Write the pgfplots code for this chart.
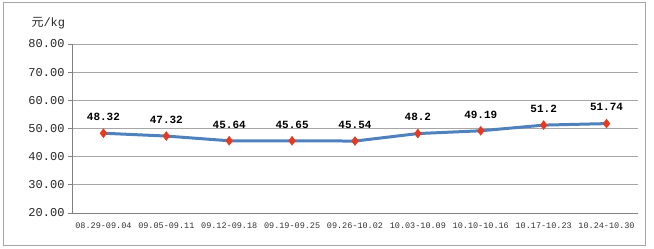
\documentclass[border=0pt]{standalone}
\usepackage{pgfplots}
\pgfplotsset{compat=1.18}
\usepackage{fontspec}
\setmainfont{Liberation Serif}
\newfontfamily\cjk{Noto Sans CJK SC}
\newfontfamily\mono{Liberation Mono}
\definecolor{lineblue}{HTML}{4F81BD}
\definecolor{mkred}{HTML}{E8381E}
\definecolor{gridgray}{HTML}{A6A6A6}
\begin{document}
\begin{tikzpicture}[x=1pt,y=1pt]
\path[use as bounding box] (0,0) rectangle (654,249);
\draw[gray!70, line width=0.8pt] (3,4) rectangle (645,247);
\node[anchor=west, font=\mono\fontsize{12}{12}\selectfont, text=black!85] at (28,226) {{\cjk 元}/kg};
\begin{axis}[
  at={(72pt,36pt)}, anchor=south west,
  scale only axis, width=566pt, height=169pt,
  xmin=-0.5, xmax=8.5, ymin=20, ymax=80,
  ytick={20,30,...,80},
  yticklabel={\pgfmathprintnumber[fixed, fixed zerofill, precision=2, assume math mode=true]{\tick}},
  xtick={0,...,8},
  xticklabels={08.29-09.04,09.05-09.11,09.12-09.18,09.19-09.25,09.26-10.02,10.03-10.09,10.10-10.16,10.17-10.23,10.24-10.30},
  extra x ticks={-0.5,0.5,...,8.5}, extra x tick labels={},
  extra x tick style={major tick length=4pt, tick style={gray, line width=0.8pt}, tick align=outside},
  xtick style={draw=none},
  ytick style={gray, line width=0.8pt},
  tick align=outside, major tick length=4pt,
  ymajorgrids, grid style={gridgray, line width=0.9pt},
  axis x line*=bottom, axis y line*=left,
  axis line style={gray, line width=0.8pt, -},
  x tick label style={font=\mono\fontsize{8.5}{9}\selectfont, text=black!80, yshift=-2pt},
  y tick label style={font=\mono\fontsize{12}{12}\selectfont, text=black!85},
  nodes near coords, point meta=explicit symbolic,
  every node near coord/.append style={font=\mono\bfseries\fontsize{11}{11}\selectfont, text=black, yshift=9pt},
  clip=false,
]
\addplot[lineblue, line width=3pt, mark=diamond*, mark size=4.5pt,
  mark options={fill=mkred, draw=mkred, line width=0.4pt}]
  table[meta=lab] {
x y lab
0 48.32 48.32
1 47.32 47.32
2 45.64 45.64
3 45.65 45.65
4 45.54 45.54
5 48.2 48.2
6 49.19 49.19
7 51.2 51.2
8 51.74 51.74
};
\end{axis}
\end{tikzpicture}
\end{document}
